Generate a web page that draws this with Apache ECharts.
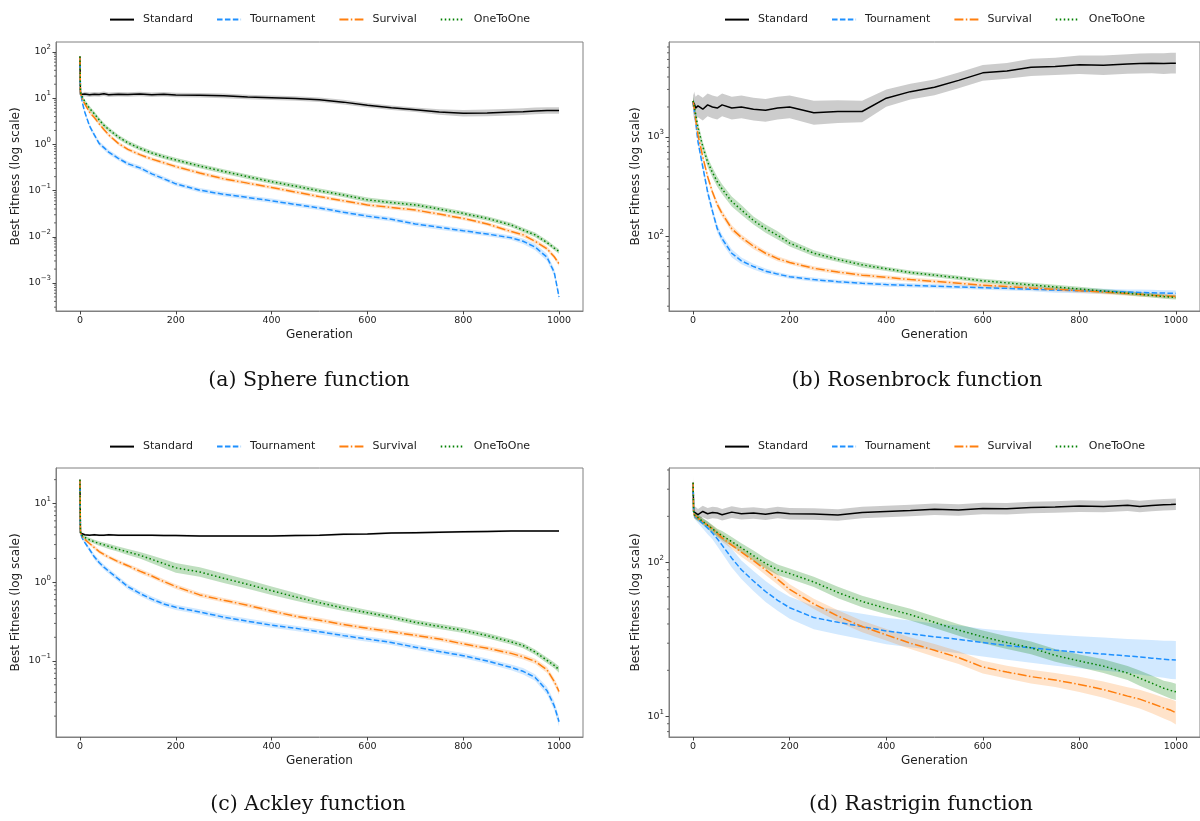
<!DOCTYPE html>
<html>
<head>
<meta charset="utf-8">
<script src="https://cdn.jsdelivr.net/npm/echarts@6/dist/echarts.min.js"></script>
<style>
html,body{margin:0;padding:0;background:#fff;}
#chart{width:1200px;height:821px;}
</style>
</head>
<body>
<div id="chart"></div>
<script>
// ---------------- DATA ----------------
const gens = [0,1,2,5,10,20,30,40,50,60,80,100,125,150,175,200,250,300,350,400,450,500,550,600,650,700,750,800,850,900,925,950,975,990,1000];
const seriesNames = ['Standard','Tournament','Survival','OneToOne'];
const captions = ['(a) Sphere function','(b) Rosenbrock function','(c) Ackley function','(d) Rastrigin function'];
const xAxisTitle = 'Generation';
const yAxisTitle = 'Best Fitness (log scale)';
const minorMultipliers = [2,3,4,5,6,7,8,9];

// (a) Sphere
const sphereStandard   = [80,12,12.5,11.5,12.3,11.8,12.2,12,12.4,11.9,12.2,12,12.3,11.8,12.1,11.7,11.5,11.2,10.6,10.2,9.8,9.2,8.2,7.0,6.2,5.6,5.0,4.7,4.8,5.0,5.1,5.3,5.4,5.4,5.4];
const sphereTournament = [80,15,12,8,5,2.5,1.6,1.05,0.85,0.68,0.5,0.38,0.31,0.23,0.18,0.14,0.102,0.083,0.071,0.06,0.05,0.042,0.034,0.028,0.024,0.019,0.016,0.0135,0.0115,0.0095,0.008,0.006,0.0036,0.0017,0.0005];
const sphereSurvival   = [80,14,12,9.5,7.5,5,3.8,2.8,2.1,1.6,1.05,0.78,0.6,0.48,0.4,0.33,0.24,0.18,0.145,0.117,0.093,0.074,0.06,0.049,0.043,0.038,0.031,0.025,0.019,0.013,0.011,0.008,0.0055,0.0037,0.0026];
const sphereOneToOne   = [80,14,12.5,10.5,8.5,6,4.6,3.4,2.6,2.1,1.45,1.08,0.82,0.65,0.54,0.46,0.34,0.26,0.2,0.155,0.125,0.099,0.08,0.063,0.055,0.049,0.04,0.032,0.025,0.018,0.014,0.011,0.0075,0.0057,0.0048];
const sphereStandardBand   = [1.3,1.12,1.12,1.12,1.12,1.12,1.12,1.12,1.12,1.12,1.12,1.12,1.12,1.12,1.12,1.12,1.12,1.12,1.12,1.12,1.12,1.12,1.12,1.12,1.12,1.12,1.15,1.18,1.18,1.18,1.18,1.18,1.18,1.18,1.18];
const sphereTournamentBand = [1.05,1.05,1.05,1.08,1.1,1.12,1.12,1.12,1.12,1.12,1.12,1.12,1.12,1.12,1.12,1.12,1.12,1.12,1.12,1.12,1.12,1.12,1.12,1.12,1.12,1.12,1.12,1.12,1.12,1.12,1.15,1.18,1.2,1.2,1.2];
const sphereSurvivalBand   = [1.05,1.05,1.05,1.08,1.1,1.1,1.1,1.1,1.1,1.1,1.1,1.1,1.1,1.1,1.1,1.1,1.1,1.1,1.1,1.1,1.1,1.1,1.1,1.1,1.1,1.1,1.1,1.1,1.1,1.1,1.12,1.12,1.12,1.12,1.12];
const sphereOneToOneBand   = [1.05,1.05,1.05,1.08,1.1,1.12,1.12,1.12,1.12,1.12,1.12,1.12,1.12,1.12,1.12,1.12,1.12,1.12,1.12,1.12,1.12,1.12,1.12,1.12,1.12,1.12,1.12,1.12,1.12,1.12,1.12,1.12,1.12,1.12,1.12];

// (b) Rosenbrock
const rosenStandard   = [2300,2000,2200,1950,2050,1900,2100,2000,1950,2100,1950,2000,1900,1850,1950,2000,1750,1800,1800,2450,2850,3150,3700,4400,4600,5000,5100,5300,5250,5400,5450,5500,5450,5500,5500];
const rosenTournament = [2300,2100,1900,1450,900,500,280,180,120,95,68,57,50,45,42,39.5,37,35.2,34,33,32.3,31.8,31.2,30.7,30.2,29.6,29,28.6,28.2,27.8,27.5,27.3,27.1,27,26.9];
const rosenSurvival   = [2300,2150,2000,1500,1050,630,400,280,210,170,120,98,80,68,60,55,48,44,41,39,37,35.5,34,32.5,31.5,30.5,29.6,28.6,27.7,26.8,26.3,25.8,25.4,25.2,25];
const rosenOneToOne   = [2300,2200,2100,1700,1250,800,560,440,355,300,225,185,145,120,103,86,68,59,52,47.5,43.5,41,38.5,36,34.3,32.7,31.2,29.8,28.4,27,26.3,25.7,25,24.7,24.5];
const rosenStandardBand   = [1.2,1.3,1.3,1.3,1.3,1.3,1.3,1.3,1.3,1.3,1.3,1.3,1.3,1.3,1.3,1.3,1.32,1.3,1.28,1.22,1.2,1.2,1.2,1.2,1.2,1.22,1.22,1.24,1.25,1.25,1.26,1.26,1.27,1.27,1.27];
const rosenTournamentBand = [1.1,1.1,1.1,1.1,1.1,1.1,1.1,1.1,1.1,1.1,1.1,1.08,1.07,1.06,1.05,1.05,1.05,1.05,1.05,1.05,1.05,1.05,1.05,1.05,1.05,1.05,1.06,1.06,1.06,1.06,1.07,1.07,1.07,1.07,1.07];
const rosenSurvivalBand   = [1.08,1.08,1.08,1.08,1.08,1.08,1.08,1.08,1.08,1.08,1.08,1.07,1.07,1.06,1.06,1.05,1.05,1.05,1.05,1.05,1.05,1.05,1.05,1.05,1.05,1.05,1.05,1.05,1.05,1.05,1.05,1.05,1.05,1.05,1.05];
const rosenOneToOneBand   = [1.1,1.1,1.1,1.12,1.12,1.12,1.12,1.12,1.12,1.12,1.12,1.12,1.1,1.1,1.1,1.08,1.07,1.06,1.06,1.05,1.05,1.05,1.05,1.05,1.05,1.05,1.05,1.05,1.05,1.05,1.05,1.05,1.05,1.05,1.05];

// (c) Ackley
const ackleyStandard   = [20,4.2,4.0,4.05,4.0,3.95,4.0,3.95,3.95,4.0,3.95,3.95,3.95,3.95,3.9,3.9,3.85,3.85,3.85,3.85,3.9,3.95,4.05,4.1,4.2,4.25,4.3,4.35,4.4,4.45,4.45,4.45,4.45,4.45,4.45];
const ackleyTournament = [20,4.5,4.0,3.6,3.2,2.6,2.1,1.78,1.55,1.38,1.1,0.88,0.72,0.61,0.53,0.48,0.42,0.36,0.32,0.285,0.26,0.235,0.21,0.19,0.172,0.15,0.132,0.117,0.1,0.083,0.074,0.062,0.042,0.027,0.017];
const ackleySurvival   = [20,4.5,4.0,3.8,3.5,3.1,2.75,2.45,2.25,2.08,1.82,1.62,1.38,1.2,1.02,0.88,0.69,0.59,0.51,0.43,0.37,0.33,0.29,0.26,0.235,0.212,0.19,0.165,0.145,0.125,0.113,0.099,0.077,0.055,0.041];
const ackleyOneToOne   = [20,4.5,4.0,3.85,3.7,3.45,3.25,3.1,2.98,2.85,2.62,2.42,2.2,1.95,1.72,1.52,1.35,1.12,0.94,0.78,0.65,0.55,0.47,0.41,0.36,0.31,0.275,0.245,0.21,0.175,0.157,0.13,0.102,0.088,0.078];
const ackleyStandardBand   = [1.05,1.03,1.03,1.03,1.03,1.03,1.03,1.03,1.03,1.03,1.03,1.03,1.03,1.03,1.03,1.03,1.03,1.03,1.03,1.03,1.03,1.03,1.03,1.03,1.03,1.03,1.03,1.03,1.03,1.03,1.03,1.03,1.03,1.03,1.03];
const ackleyTournamentBand = [1.04,1.04,1.04,1.05,1.06,1.07,1.08,1.08,1.08,1.08,1.08,1.08,1.08,1.08,1.08,1.08,1.08,1.08,1.08,1.08,1.08,1.08,1.08,1.08,1.08,1.08,1.08,1.08,1.08,1.09,1.1,1.1,1.12,1.14,1.15];
const ackleySurvivalBand   = [1.04,1.04,1.04,1.05,1.05,1.05,1.06,1.06,1.06,1.06,1.06,1.06,1.07,1.07,1.07,1.07,1.07,1.07,1.07,1.07,1.07,1.07,1.07,1.07,1.07,1.07,1.07,1.07,1.07,1.08,1.08,1.08,1.09,1.1,1.1];
const ackleyOneToOneBand   = [1.04,1.04,1.04,1.05,1.05,1.06,1.06,1.07,1.07,1.08,1.08,1.09,1.1,1.12,1.14,1.15,1.15,1.15,1.14,1.13,1.12,1.1,1.09,1.08,1.08,1.08,1.08,1.08,1.08,1.08,1.08,1.08,1.09,1.09,1.1];

// (d) Rastrigin
const rastStandard   = [330,215,210,212,205,215,208,212,210,205,213,208,210,206,212,208,207,204,212,215,218,222,220,225,224,228,230,233,232,236,232,235,238,239,240];
const rastTournament = [330,215,205,198,192,180,168,156,143,130,107,90,76,65,57,51,44,41,38.5,36,34.5,33,31.8,30.3,29,28,27,26.2,25.5,24.8,24.4,24,23.6,23.4,23.3];
const rastSurvival   = [330,215,205,200,195,185,175,166,155,145,130,117,103,90,78,67,54,45,38.5,34,30,27,24.2,21,19.5,18.2,17.3,16.2,15,13.6,13,12.2,11.4,11,10.6];
const rastOneToOne   = [330,215,205,200,196,185,175,166,157,150,137,125,111,99,90,85,75,64,56,50.5,46,41,36.5,33,30.3,28,25,23,21.3,19.2,17.8,16.5,15.3,14.8,14.5];
const rastStandardBand   = [1.12,1.09,1.09,1.09,1.09,1.09,1.09,1.09,1.09,1.09,1.09,1.09,1.09,1.09,1.09,1.09,1.09,1.09,1.09,1.09,1.09,1.09,1.09,1.09,1.09,1.09,1.09,1.09,1.09,1.09,1.09,1.09,1.09,1.09,1.09];
const rastTournamentBand = [1.05,1.05,1.05,1.05,1.06,1.08,1.1,1.1,1.12,1.13,1.15,1.15,1.16,1.17,1.17,1.18,1.19,1.2,1.21,1.22,1.22,1.22,1.23,1.23,1.24,1.25,1.26,1.27,1.28,1.29,1.3,1.31,1.32,1.33,1.33];
const rastSurvivalBand   = [1.04,1.04,1.04,1.04,1.04,1.05,1.05,1.05,1.06,1.06,1.06,1.07,1.07,1.08,1.08,1.08,1.08,1.09,1.09,1.09,1.09,1.1,1.1,1.1,1.1,1.11,1.11,1.12,1.13,1.14,1.15,1.16,1.17,1.18,1.19];
const rastOneToOneBand   = [1.04,1.04,1.04,1.05,1.05,1.05,1.06,1.06,1.06,1.07,1.07,1.07,1.08,1.08,1.08,1.08,1.08,1.09,1.09,1.09,1.09,1.09,1.09,1.1,1.1,1.1,1.1,1.1,1.11,1.11,1.12,1.12,1.12,1.13,1.13];

// ---------------- LAYOUT / STYLE ----------------
const panels = [
  { means:[sphereStandard,sphereTournament,sphereSurvival,sphereOneToOne],
    bands:[sphereStandardBand,sphereTournamentBand,sphereSurvivalBand,sphereOneToOneBand],
    ymin:2.48e-4, ymax:164, grid:{left:56,right:617,top:42,bottom:510}, nameGap:34,
    legend:{left:104,top:9}, cap:{x:309,y:381} },
  { means:[rosenStandard,rosenTournament,rosenSurvival,rosenOneToOne],
    bands:[rosenStandardBand,rosenTournamentBand,rosenSurvivalBand,rosenOneToOneBand],
    ymin:17.9, ymax:8980, grid:{left:669,right:-2,top:42,bottom:510}, nameGap:27,
    legend:{left:719,top:9}, cap:{x:917,y:381} },
  { means:[ackleyStandard,ackleyTournament,ackleySurvival,ackleyOneToOne],
    bands:[ackleyStandardBand,ackleyTournamentBand,ackleySurvivalBand,ackleyOneToOneBand],
    ymin:0.01087, ymax:28.1, grid:{left:56,right:617,top:468,bottom:84}, nameGap:34,
    legend:{left:104,top:436}, cap:{x:308,y:805} },
  { means:[rastStandard,rastTournament,rastSurvival,rastOneToOne],
    bands:[rastStandardBand,rastTournamentBand,rastSurvivalBand,rastOneToOneBand],
    ymin:7.38, ymax:412, grid:{left:669,right:-2,top:468,bottom:84}, nameGap:27,
    legend:{left:719,top:436}, cap:{x:921,y:805} }
];
const lineColors = ['#000000','#1e90ff','#ff7f0e','#008000'];
const bandColors = ['rgba(0,0,0,0.2)','rgba(30,144,255,0.2)','rgba(255,127,14,0.22)','rgba(0,128,0,0.25)'];
const dashes = ['solid',[5.5,2.4],[9,2.4,1.5,2.4],[1.5,2.5]];
const FONT = 'DejaVu Sans';
const X_MIN = -50, X_MAX = 1050;

function supLabel(v){
  const lg = Math.log10(v);
  const e = Math.round(lg);
  if (Math.abs(lg - e) > 1e-6) return '';
  return '{b|10}{s|' + (e < 0 ? '\u2212' + (-e) : String(e)) + '}';
}

function bandRenderer(lo, hi, color){
  return function(params, api){
    if (params.dataIndex !== 0) return null;
    const pts = [];
    for (let i = 0; i < gens.length; i++) pts.push(api.coord([gens[i], hi[i]]));
    for (let i = gens.length - 1; i >= 0; i--) pts.push(api.coord([gens[i], lo[i]]));
    return { type:'polygon', shape:{points:pts}, style:{fill:color, stroke:null} };
  };
}

function minorTickRenderer(params, api){
  const p = api.coord([api.value(0), api.value(1)]);
  return { type:'line', shape:{x1:p[0] - 2, y1:p[1], x2:p[0], y2:p[1]}, style:{stroke:'#444', lineWidth:0.8} };
}

function minorValues(ymin, ymax){
  const out = [];
  for (let n = Math.floor(Math.log10(ymin)); n <= Math.ceil(Math.log10(ymax)); n++) {
    minorMultipliers.forEach(function(m){
      const v = m * Math.pow(10, n);
      if (v > ymin && v < ymax) out.push([X_MIN, v]);
    });
  }
  return out;
}

const grids = [], xAxes = [], yAxes = [], series = [], legends = [], graphics = [];
panels.forEach(function(p, k){
  grids.push(Object.assign({show:true, borderColor:'#808080', borderWidth:1, backgroundColor:'transparent', containLabel:false}, p.grid));
  xAxes.push({
    type:'value', gridIndex:k, min:X_MIN, max:X_MAX,
    name:xAxisTitle, nameLocation:'middle', nameGap:18,
    nameTextStyle:{fontFamily:FONT, fontSize:12, color:'#222'},
    axisLine:{show:true, onZero:false, lineStyle:{color:'#808080', width:1}},
    axisTick:{show:true, length:3.5, lineStyle:{color:'#444'}},
    axisLabel:{fontFamily:FONT, fontSize:9.5, color:'#222', margin:5, showMinLabel:false, showMaxLabel:false,
      formatter:function(v){ return String(v); }},
    splitLine:{show:false}
  });
  yAxes.push({
    type:'log', logBase:10, gridIndex:k, min:p.ymin, max:p.ymax,
    name:yAxisTitle, nameLocation:'middle', nameGap:p.nameGap,
    nameTextStyle:{fontFamily:FONT, fontSize:12, color:'#222'},
    axisLine:{show:true, onZero:false, lineStyle:{color:'#808080', width:1}},
    axisTick:{show:true, length:3.5, lineStyle:{color:'#444'}},
    axisLabel:{
      margin:5, showMinLabel:false, showMaxLabel:false, formatter:supLabel,
      rich:{
        b:{fontFamily:FONT, fontSize:9.5, color:'#222', lineHeight:16, verticalAlign:'middle'},
        s:{fontFamily:FONT, fontSize:7, color:'#222', lineHeight:8, verticalAlign:'top'}
      }
    },
    splitLine:{show:false}
  });
  legends.push({
    data:seriesNames, left:p.legend.left, top:p.legend.top, orient:'horizontal',
    itemWidth:24, itemHeight:14, itemGap:23, selectedMode:false,
    itemStyle:{opacity:0},
    textStyle:{fontFamily:FONT, fontSize:11, color:'#222', padding:[0,0,0,4]}
  });
  graphics.push({
    type:'text', x:p.cap.x, y:p.cap.y, silent:true,
    style:{text:captions[k], font:'20.5px "DejaVu Serif"', fill:'#111', textAlign:'center', textVerticalAlign:'middle'}
  });
  // minor ticks on the log axis (2..9 x 10^n)
  series.push({
    type:'custom', name:'minor ticks ' + k, xAxisIndex:k, yAxisIndex:k,
    coordinateSystem:'cartesian2d', clip:false, silent:true, z:4,
    data:minorValues(p.ymin, p.ymax), encode:{x:0, y:1},
    renderItem:minorTickRenderer
  });
  p.means.forEach(function(mean, j){
    const band = p.bands[j];
    const lo = mean.map(function(m, i){ return m / band[i]; });
    const hi = mean.map(function(m, i){ return m * band[i]; });
    series.push({
      type:'custom', name:seriesNames[j] + ' band', xAxisIndex:k, yAxisIndex:k,
      coordinateSystem:'cartesian2d', clip:true, silent:true, z:1,
      data:[[gens[0], mean[0]]], encode:{x:0, y:1},
      renderItem:bandRenderer(lo, hi, bandColors[j])
    });
  });
  p.means.forEach(function(mean, j){
    series.push({
      type:'line', name:seriesNames[j], xAxisIndex:k, yAxisIndex:k,
      data:gens.map(function(g,i){ return [g, mean[i]]; }),
      symbol:'none', z:3,
      itemStyle:{color:lineColors[j]},
      lineStyle:{color:lineColors[j], width:1.5, type:dashes[j]}
    });
  });
});

const chart = echarts.init(document.getElementById('chart'), null, {renderer:'canvas'});
chart.setOption({
  animation:false,
  backgroundColor:'#ffffff',
  grid:grids, xAxis:xAxes, yAxis:yAxes, legend:legends, series:series,
  graphic:graphics
});
</script>
</body>
</html>
